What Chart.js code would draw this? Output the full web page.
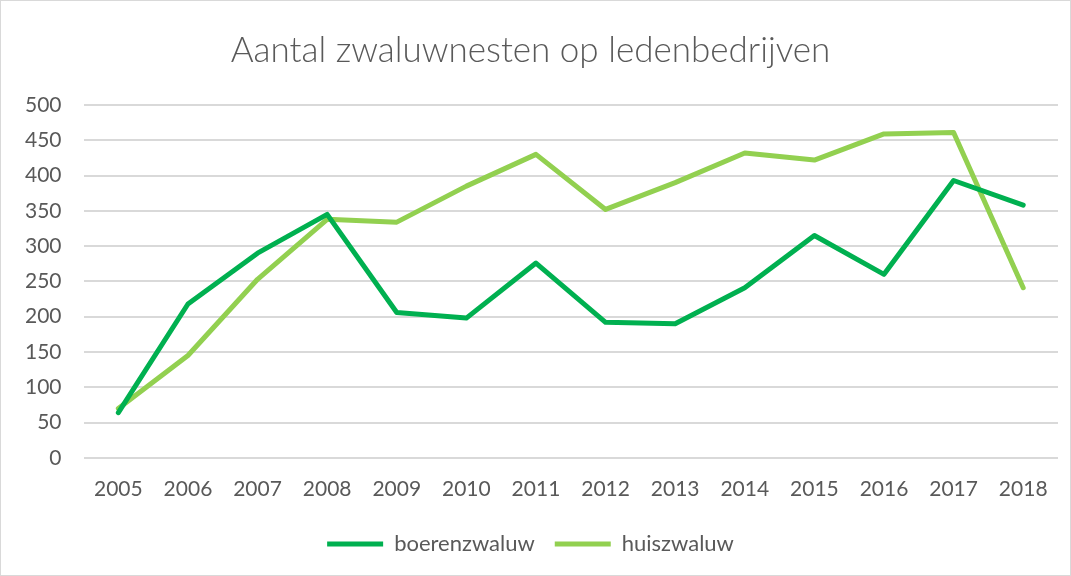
<!DOCTYPE html>
<html lang="nl">
  <head>
    <meta charset="UTF-8" />
    <title>Aantal zwaluwnesten op ledenbedrijven</title>
    <style>
      body {
        margin: 0;
        background: #fff;
      }
      .chart-container {
        position: relative;
        width: 1069px;
        height: 574px;
        border: 1px solid #d9d9d9;
      }
    </style>
  </head>
  <body>
    <div class="chart-container">
      <canvas id="nestChart"></canvas>
    </div>
    <script src="https://cdn.jsdelivr.net/npm/chart.js"></script>
    <script>
      const years = ["2005", "2006", "2007", "2008", "2009", "2010", "2011",
        "2012", "2013", "2014", "2015", "2016", "2017", "2018"];
      const boerenzwaluw = [64, 218, 290, 345, 206, 198, 276, 192, 190, 241, 315, 260, 393, 358];
      const huiszwaluw = [70, 145, 253, 338, 334, 385, 430, 352, 390, 432, 422, 459, 461, 241];
      const yTicks = [0, 50, 100, 150, 200, 250, 300, 350, 400, 450, 500];

      const textColor = "#595959";
      const fontFamily = "Lato, 'Open Sans', sans-serif";

      const nestChart = new Chart(document.getElementById("nestChart"), {
        type: "line",
        data: {
          labels: years,
          datasets: [
            {
              label: "boerenzwaluw",
              data: boerenzwaluw,
              borderColor: "#00b050",
              backgroundColor: "#00b050",
              borderWidth: 5,
              borderCapStyle: "round",
              borderJoinStyle: "round",
              pointRadius: 0,
              tension: 0,
            },
            {
              label: "huiszwaluw",
              data: huiszwaluw,
              borderColor: "#92d050",
              backgroundColor: "#92d050",
              borderWidth: 5,
              borderCapStyle: "round",
              borderJoinStyle: "round",
              pointRadius: 0,
              tension: 0,
            },
          ],
        },
        options: {
          responsive: true,
          maintainAspectRatio: false,
          animation: false,
          layout: { padding: { left: 2, right: 12, top: 14, bottom: 10 } },
          plugins: {
            title: {
              display: true,
              text: "Aantal zwaluwnesten op ledenbedrijven",
              color: textColor,
              font: { family: fontFamily, size: 35, weight: "300" },
              padding: { top: 15, bottom: 33 },
            },
            legend: {
              position: "bottom",
              labels: {
                color: textColor,
                font: { family: fontFamily, size: 22 },
                usePointStyle: true,
                pointStyle: "line",
                pointStyleWidth: 56,
                padding: 20,
              },
            },
            tooltip: { enabled: false },
          },
          scales: {
            x: {
              offset: true,
              grid: { display: false },
              border: { display: false },
              ticks: {
                color: textColor,
                font: { family: fontFamily, size: 21 },
                maxRotation: 0,
                padding: 11,
              },
            },
            y: {
              min: 0,
              max: 500,
              afterBuildTicks: (axis) => {
                axis.ticks = yTicks.map((v) => ({ value: v }));
              },
              grid: { color: "#d9d9d9", lineWidth: 2, drawTicks: false },
              border: { display: false },
              ticks: {
                color: textColor,
                font: { family: fontFamily, size: 21 },
                padding: 22,
              },
            },
          },
        },
      });
    </script>
  </body>
</html>
